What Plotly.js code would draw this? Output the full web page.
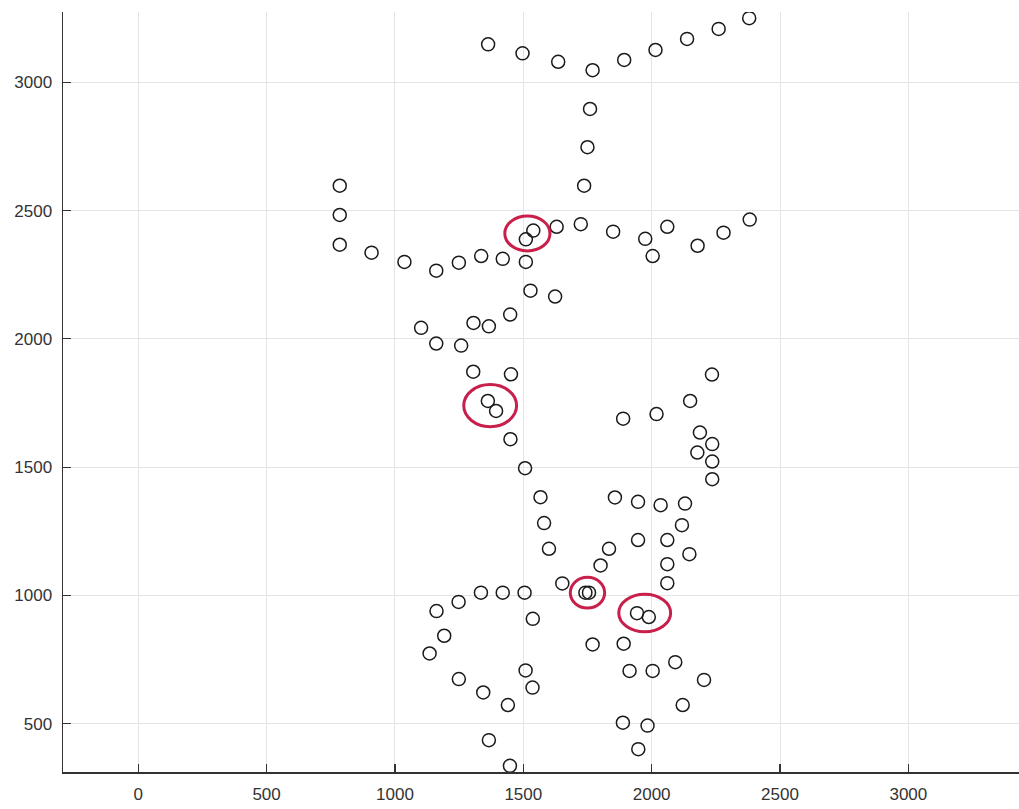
<!DOCTYPE html>
<html>
<head>
<meta charset="utf-8">
<script src="https://cdn.plot.ly/plotly-3.0.1.min.js"></script>
<style>html,body{margin:0;padding:0;background:#fff;}#chart{width:1019px;height:809px;}</style>
</head>
<body>
<div id="chart"></div>
<script>
// Point coordinates
const xs = [
  1363,1497,1636,1770,1893,2015,2138,2261,2380,
  1760,1750,1737,
  785,785,785,
  909,1037,1161,1249,1336,1420,1510,
  1539,1510,
  1630,1724,1850,1975,2061,2004,2179,2280,2382,
  1528,1624,1449,1306,1366,1102,1161,1258,1305,1452,
  1362,1394,
  1450,1507,1567,1581,1600,
  2235,2150,1889,2019,2188,2236,2178,2236,2236,
  1857,1947,2035,2130,2118,1947,2061,2147,1834,1801,2061,2061,
  1652,1742,1756,
  1335,1420,1505,1248,1162,1537,1192,1135,1249,1509,1536,1344,1440,1366,1448,
  1943,1989,
  1770,1891,1914,2004,2092,2204,2121,1888,1984,1948
];
const ys = [
  3148,3113,3080,3047,3087,3126,3169,3208,3250,
  2896,2747,2597,
  2597,2483,2367,
  2336,2300,2266,2297,2323,2312,2300,
  2422,2388,
  2437,2447,2418,2390,2437,2323,2363,2414,2465,
  2188,2165,2095,2062,2049,2043,1982,1974,1872,1862,
  1758,1719,
  1609,1496,1383,1282,1182,
  1861,1758,1689,1707,1635,1590,1557,1522,1453,
  1382,1365,1352,1358,1274,1216,1216,1161,1182,1117,1122,1048,
  1047,1011,1011,
  1011,1011,1011,975,939,909,843,774,674,708,641,622,573,436,336,
  931,916,
  809,812,706,706,740,671,573,504,493,401
];
// Red highlight ellipses (centre and semi-axes, data units)
const ellipseCx = [1516, 1371, 1750, 1973];
const ellipseCy = [2411, 1740, 1011, 932];
const ellipseRx = [88, 103, 67, 101];
const ellipseRy = [68, 82, 60, 73];

const xTicks = [0, 500, 1000, 1500, 2000, 2500, 3000];
const yTicks = [500, 1000, 1500, 2000, 2500, 3000];

const shapes = ellipseCx.map((cx, i) => ({
  type: 'circle', xref: 'x', yref: 'y',
  x0: cx - ellipseRx[i], x1: cx + ellipseRx[i],
  y0: ellipseCy[i] - ellipseRy[i], y1: ellipseCy[i] + ellipseRy[i],
  line: {color: '#c81f4b', width: 3}
}));

const trace = {
  x: xs, y: ys, type: 'scatter', mode: 'markers',
  marker: {symbol: 'circle-open', size: 13, color: '#1a1a1a', line: {width: 1.5, color: '#1a1a1a'}},
  hoverinfo: 'x+y'
};

const tickFont = {family: 'Liberation Sans, Arial, sans-serif', size: 17, color: '#333'};

const layout = {
  width: 1019, height: 809,
  margin: {l: 63, r: 0, t: 12, b: 37},
  paper_bgcolor: '#fff', plot_bgcolor: '#fff',
  showlegend: false,
  xaxis: {
    range: [-293, 3431], tickvals: xTicks, ticktext: xTicks.map(String),
    showgrid: true, gridcolor: '#e4e4e4', gridwidth: 1, zeroline: false,
    showline: true, linecolor: '#333', linewidth: 1.5,
    ticks: 'inside', ticklen: 8, tickcolor: '#333', tickwidth: 1.2,
    tickfont: tickFont, ticklabelstandoff: 6
  },
  yaxis: {
    range: [312, 3274], tickvals: yTicks, ticktext: yTicks.map(String),
    showgrid: true, gridcolor: '#e4e4e4', gridwidth: 1, zeroline: false,
    showline: true, linecolor: '#333', linewidth: 1.5,
    ticks: 'inside', ticklen: 8, tickcolor: '#333', tickwidth: 1.2,
    tickfont: tickFont, ticklabelstandoff: 6
  },
  shapes: shapes
};

Plotly.newPlot('chart', [trace], layout, {displayModeBar: false, staticPlot: true});
</script>
</body>
</html>
